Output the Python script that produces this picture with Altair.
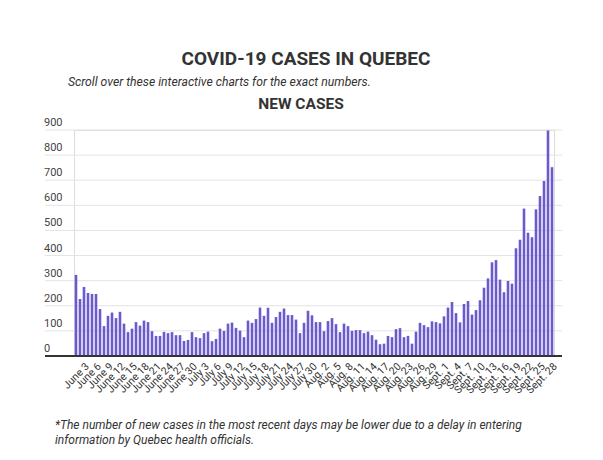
import altair as alt
import pandas as pd

# ---- data ----
months = [("June", 30), ("July", 31), ("Aug.", 31), ("Sept.", 28)]
dates = [f"{m} {d}" for m, n in months for d in range(1, n + 1)]

new_cases = [
    323, 227, 275, 251, 247, 247, 187, 119, 160, 173,
    151, 176, 129, 95, 109, 135, 121, 141, 135, 99,
    80, 80, 96, 91, 95, 83, 83, 60, 64, 95,
    75, 71, 91, 97, 59, 68, 109, 100, 129, 133,
    112, 101, 75, 141, 132, 147, 193, 160, 192, 132,
    155, 176, 189, 163, 163, 145, 91, 132, 180, 162,
    135, 135, 99, 139, 151, 127, 95, 129, 119, 100,
    103, 103, 91, 97, 83, 65, 47, 49, 80, 75,
    107, 111, 75, 80, 49, 97, 132, 123, 115, 138,
    135, 130, 158, 193, 215, 171, 134, 207, 219, 165,
    183, 222, 272, 309, 373, 382, 304, 254, 299, 288,
    429, 463, 587, 491, 473, 584, 637, 697, 898, 752,
]
tick_labels = dates[2::3]
y_ticks = list(range(0, 1000, 100))

title_text = "COVID-19 CASES IN QUEBEC"
subtitle_text = "Scroll over these interactive charts for the exact numbers."
chart_label = "NEW CASES"
note_text = ("*The number of new cases in the most recent days may be lower due to a delay in entering\n"
             "information by Quebec health officials.")

# ---- layout / style ----
W, H = 480, 226
FONT = "Roboto"
TXT = "#333333"
BAR = "#6a5acd"

df = pd.DataFrame({"date": dates, "cases": new_cases})
grid_df = pd.DataFrame({"v": y_ticks})
zero_df = pd.DataFrame({"v": [0]})

yscale = alt.Scale(domain=[0, 900], nice=False, zero=True)

grid = alt.Chart(grid_df).mark_rule(color="#e3e3e3", strokeWidth=1).encode(
    y=alt.Y("v:Q", scale=yscale, axis=None),
    x=alt.value(-29), x2=alt.value(W + 8),
)

bars = alt.Chart(df).mark_bar(color=BAR).encode(
    x=alt.X("date:N", sort=dates,
            scale=alt.Scale(paddingInner=0.35, paddingOuter=0.175),
            axis=alt.Axis(values=tick_labels, labelAngle=-45, labelAlign="right",
                          ticks=False, domain=False, grid=False, title=None,
                          labelFontSize=10.5, labelColor=TXT, labelFont=FONT,
                          labelPadding=5, labelOverlap=False)),
    y=alt.Y("cases:Q", scale=yscale, axis=None),
)

baseline = alt.Chart(zero_df).mark_rule(color="#333333", strokeWidth=2).encode(
    y=alt.Y("v:Q", scale=yscale),
    x=alt.value(-29), x2=alt.value(W + 8),
)

ylabels = alt.Chart(grid_df).mark_text(
    align="left", baseline="bottom", dy=-2, fontSize=11, color="#444444", font=FONT
).encode(
    y=alt.Y("v:Q", scale=yscale),
    x=alt.value(-30),
    text=alt.Text("v:Q"),
)

def txt(s, x, y, **kw):
    return alt.Chart(pd.DataFrame({"t": [s]})).mark_text(font=FONT, color=TXT, **kw).encode(
        x=alt.value(x), y=alt.value(y), text="t:N"
    )

title = txt(title_text, 232, -71, fontSize=19, fontWeight="bold", align="center", baseline="middle")
subtitle = txt(subtitle_text, -6, -48, fontSize=12.2, fontStyle="italic", align="left", baseline="middle")
label = txt(chart_label, 227, -26, fontSize=15.5, fontWeight="bold", align="center", baseline="middle")
note = txt(note_text, -19, 295, fontSize=12, fontStyle="italic", align="left", baseline="middle",
           lineBreak="\n", lineHeight=15)

chart = alt.layer(grid, bars, baseline, ylabels, title, subtitle, label, note).properties(
    width=W, height=H,
    autosize=alt.AutoSizeParams(type="none"),
    padding={"left": 66, "top": 122, "right": 40, "bottom": 100},
    background="white",
).configure_view(stroke=None).configure(font=FONT)

chart.save("out.html", embed_options={"renderer": "svg", "actions": False})
